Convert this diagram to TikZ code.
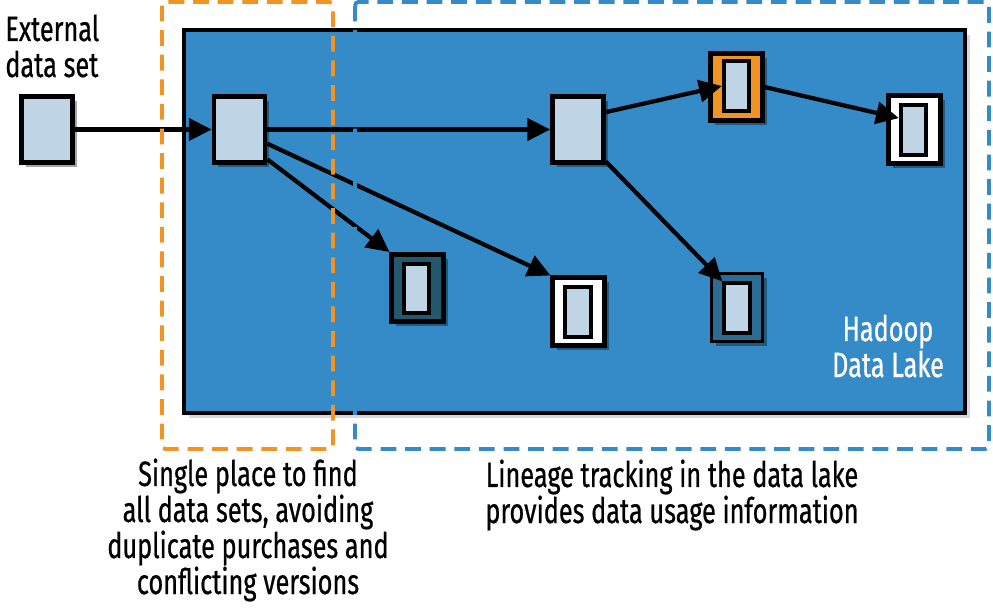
\documentclass[tikz,border=0pt]{standalone}
\usepackage{fontspec}
\setmainfont[FakeStretch=0.72,FakeBold=0.6]{Fira Sans}
\usetikzlibrary{arrows.meta,shadows}
\definecolor{lakeblue}{RGB}{52,139,199}
\definecolor{setblue}{RGB}{191,212,228}
\definecolor{markorange}{RGB}{242,148,36}
\definecolor{darkteal}{RGB}{36,88,110}
\definecolor{shadeblue}{RGB}{42,108,146}
\begin{document}
\begin{tikzpicture}[x=0.02cm,y=-0.02cm,
  shade/.style={drop shadow={shadow xshift=2.5pt,shadow yshift=-2.5pt,fill=black,opacity=0.35}},
  dataset/.style={draw=black,line width=2.6pt,fill=setblue,minimum width=1.02cm,minimum height=1.33cm,inner sep=0pt,shade},
  wrap/.style={draw=black,line width=2.6pt,minimum width=1.03cm,minimum height=1.35cm,inner sep=0pt,shade},
  core/.style={draw=black,line width=2.2pt,fill=setblue,minimum width=0.51cm,minimum height=0.99cm,inner sep=0pt},
  flow/.style={line width=2.4pt,-{Triangle[length=13pt,width=12.5pt]}},
  note/.style={font=\fontsize{20}{20.5}\selectfont,inner sep=0pt}]
  \useasboundingbox (0,0) rectangle (993,609);
  % the lake
  \filldraw[fill=lakeblue,draw=black,line width=2.8pt,drop shadow={shadow xshift=3pt,shadow yshift=-3pt,fill=black!30}] (184,30) rectangle (965,413);
  \node[note,white,align=center,anchor=base] (laketext) at (888,377) {Hadoop\\Data Lake};
  % data sets
  \node[dataset] (ext) at (47,129.5) {};
  \node[dataset] (src) at (239.5,129.5) {};
  \node[dataset] (hub) at (578,129.5) {};
  \node[wrap,fill=markorange] (ora) at (736.5,87) {};
  \node[core] (ora-in) at (736.5,86) {};
  \node[wrap,fill=white] (top) at (914.5,129.5) {};
  \node[core] (top-in) at (913.5,130) {};
  \node[wrap,fill=darkteal] (dark) at (417.5,288) {};
  \node[core] (dark-in) at (416.5,288.5) {};
  \node[wrap,fill=white] (mid) at (578.5,311.5) {};
  \node[core] (mid-in) at (578,312) {};
  \node[wrap,fill=shadeblue,line width=1.6pt] (low) at (737,307.5) {};
  \node[core] (low-in) at (737,308) {};
  % lineage
  \draw[flow] (ext.east) -- (src.west);
  \draw[flow] (src.east) -- (hub.west);
  \draw[flow] (src.-47) -- (dark.north west);
  \draw[flow] (src.-27) -- (mid.north west);
  \draw[flow] (hub.32) -- (ora-in.west);
  \draw[flow] (ora.east) -- (top-in.141);
  \draw[flow] (hub.-49) -- (low-in.north west);
  % dashed groups
  \draw[markorange,line width=2.2pt,dash pattern=on 9pt off 5pt,rounded corners=2pt] (162,2) rectangle (333,449);
  \draw[lakeblue,line width=2.2pt,dash pattern=on 9pt off 5pt,rounded corners=2pt] (355,2) rectangle (989,449);
  % texts
  \node[note,align=left,anchor=base west] (exttext) at (5,77) {External\\data set};
  \node[note,align=center,anchor=base] (leftnote) at (248,594) {Single place to find\\all data sets, avoiding\\duplicate purchases and\\conflicting versions};
  \node[note,align=center,anchor=base] (rightnote) at (672,523) {Lineage tracking in the data lake\\provides data usage information};
\end{tikzpicture}
\end{document}
